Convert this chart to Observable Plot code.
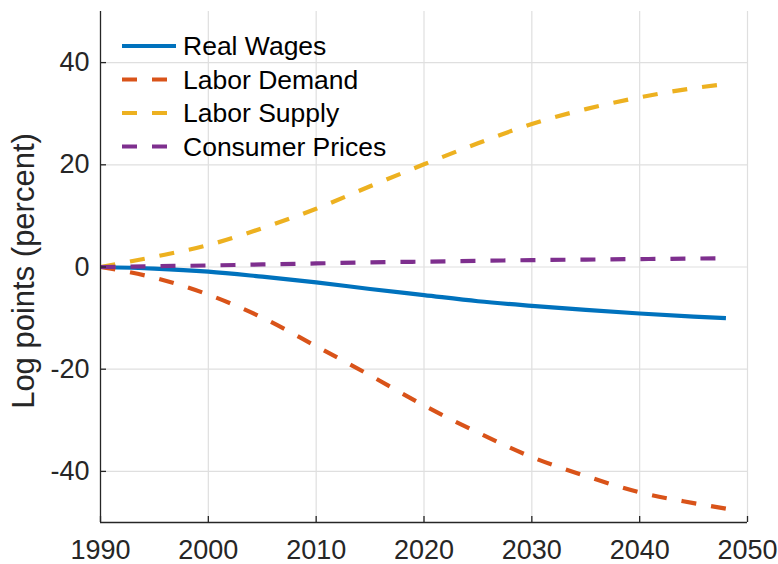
<!DOCTYPE html>
<html>
<head>
<meta charset="utf-8">
<script src="https://cdn.jsdelivr.net/npm/d3@7"></script>
<script src="https://cdn.jsdelivr.net/npm/@observablehq/plot@0.6"></script>
<style>
  html, body { margin: 0; padding: 0; background: #fff; }
  #wrap { position: relative; width: 778px; height: 564px; font-family: "Liberation Sans", Arial, Helvetica, sans-serif; }
  #legend { position: absolute; left: 0; top: 0; }
</style>
</head>
<body>
<div id="wrap"></div>
<script>
const years = [1990, 1995, 2000, 2005, 2010, 2015, 2020, 2025, 2030, 2035, 2040, 2045, 2048];
const realWages      = [0, -0.3, -0.9, -1.9, -3.0, -4.3, -5.5, -6.7, -7.6, -8.4, -9.1, -9.7, -10.0];
const laborDemand    = [0, -2.1, -5.4, -9.9, -15.5, -21.2, -27.1, -32.4, -37.2, -40.9, -44.1, -46.2, -47.3];
const laborSupply    = [0, 2.0, 4.3, 7.6, 11.4, 15.8, 20.1, 24.2, 28.0, 30.9, 33.2, 35.0, 35.8];
const consumerPrices = [0, 0.15, 0.3, 0.5, 0.7, 0.9, 1.05, 1.2, 1.35, 1.45, 1.55, 1.65, 1.7];

const seriesNames  = ["Real Wages", "Labor Demand", "Labor Supply", "Consumer Prices"];
const seriesValues = [realWages, laborDemand, laborSupply, consumerPrices];
const seriesColors = ["#0072BD", "#D95319", "#EDB120", "#7E2F8E"];
const seriesDash   = [null, "15,15", "15,15", "15,15"];

const xTicks = [1990, 2000, 2010, 2020, 2030, 2040, 2050];
const xGrid  = [2000, 2010, 2020, 2030, 2040, 2050];
const yTicks = [-40, -20, 0, 20, 40];
const yLabel = "Log points (percent)";

const W = 778, H = 564;
const mL = 100, mR = 31, mT = 11, mB = 42;
const frameW = W - mL - mR, frameH = H - mT - mB;
const font = '"Liberation Sans", Arial, Helvetica, sans-serif';
const ink = "#262626";

const lineMarks = seriesNames.map((name, i) => {
  const data = years.map((yr, j) => ({year: yr, value: seriesValues[i][j]}));
  return Plot.line(data, {
    x: "year", y: "value", curve: "monotone-x",
    stroke: seriesColors[i], strokeWidth: 4.2,
    strokeDasharray: seriesDash[i] ?? undefined,
    strokeLinecap: "butt"
  });
});

const chart = Plot.plot({
  width: W, height: H,
  marginLeft: mL, marginRight: mR, marginTop: mT, marginBottom: mB,
  style: {fontFamily: font, background: "#fff", overflow: "visible"},
  x: {domain: [1990, 2050]},
  y: {domain: [-50, 50]},
  marks: [
    Plot.gridX(xGrid, {stroke: "#dfdfdf", strokeOpacity: 1, strokeWidth: 1.2}),
    Plot.gridY(yTicks, {stroke: "#dfdfdf", strokeOpacity: 1, strokeWidth: 1.2}),
    ...lineMarks,
    Plot.ruleX([1990], {stroke: ink, strokeWidth: 1.3}),
    Plot.ruleY([-50], {stroke: ink, strokeWidth: 1.3}),
    Plot.tickX(xTicks, {x: d => d, stroke: ink, strokeWidth: 1.3, insetTop: frameH - 6}),
    Plot.tickY(yTicks, {y: d => d, stroke: ink, strokeWidth: 1.3, insetRight: frameW - 6}),
    Plot.axisX(xTicks, {tickSize: 0, tickPadding: 17, fontSize: 27, fill: ink, label: null, tickFormat: d => String(d)}),
    Plot.axisY(yTicks, {tickSize: 0, tickPadding: 11, fontSize: 27, fill: ink, label: null, tickFormat: d => String(d)}),
    Plot.text([yLabel], {text: d => d, frameAnchor: "left", textAnchor: "middle", rotate: -90, dx: -76, dy: 4, fontSize: 31, fill: ink})
  ]
});

const wrap = document.getElementById("wrap");
wrap.appendChild(chart);

// Legend overlay
const leg = d3.select(wrap).append("svg")
  .attr("id", "legend").attr("width", W).attr("height", 180)
  .style("font-family", font);
const rowY = [46, 79.5, 113, 146.5];
seriesNames.forEach((name, i) => {
  leg.append("line")
    .attr("x1", 122).attr("x2", 176).attr("y1", rowY[i]).attr("y2", rowY[i])
    .attr("stroke", seriesColors[i]).attr("stroke-width", 4.2)
    .attr("stroke-dasharray", seriesDash[i]);
  leg.append("text")
    .attr("x", 183).attr("y", rowY[i]).attr("dy", "0.35em")
    .attr("font-size", 26.5).attr("fill", "#000")
    .text(name);
});
</script>
</body>
</html>
